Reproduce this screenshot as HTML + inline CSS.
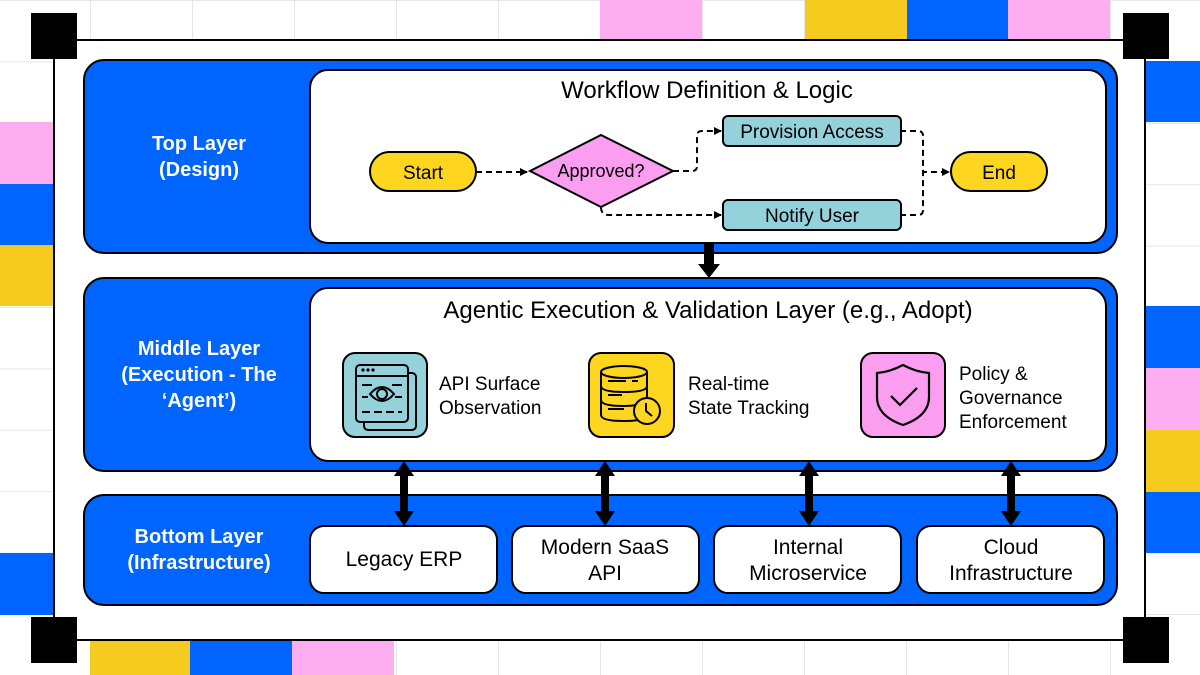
<!DOCTYPE html>
<html><head><meta charset="utf-8"><style>
html,body{margin:0;padding:0;width:1200px;height:675px;overflow:hidden;background:#fff}
svg{display:block}
text{font-family:"Liberation Sans",sans-serif}
</style></head><body>
<svg width="1200" height="675" viewBox="0 0 1200 675" xmlns="http://www.w3.org/2000/svg">
<defs>
<pattern id="g" x="-12" y="0" width="102" height="61.4" patternUnits="userSpaceOnUse">
<path d="M0 0H102M0 0V61.4" stroke="#e6e6e6" stroke-width="2" fill="none"/>
</pattern>
<marker id="a" markerWidth="8" markerHeight="8" refX="7" refY="4" orient="auto" markerUnits="userSpaceOnUse"><path d="M0 0L8 4L0 8z" fill="#000"/></marker>
</defs>
<rect width="1200" height="675" fill="url(#g)"/>
<rect x="0" y="122" width="54" height="62" fill="#fdaef0"/>
<rect x="0" y="184" width="54" height="61" fill="#0064ff"/>
<rect x="0" y="245" width="54" height="61" fill="#f6cb1f"/>
<rect x="0" y="553" width="54" height="62" fill="#0064ff"/>
<rect x="1145" y="61" width="55" height="61" fill="#0064ff"/>
<rect x="1145" y="306" width="55" height="62" fill="#0064ff"/>
<rect x="1145" y="368" width="55" height="62" fill="#fdaef0"/>
<rect x="1145" y="430" width="55" height="62" fill="#f6cb1f"/>
<rect x="1145" y="492" width="55" height="61" fill="#0064ff"/>
<rect x="600" y="0" width="102" height="40" fill="#fdaef0"/>
<rect x="805" y="0" width="102" height="40" fill="#f6cb1f"/>
<rect x="907" y="0" width="101" height="40" fill="#0064ff"/>
<rect x="1008" y="0" width="102" height="40" fill="#fdaef0"/>
<rect x="90" y="640" width="100" height="35" fill="#f6cb1f"/>
<rect x="190" y="640" width="102" height="35" fill="#0064ff"/>
<rect x="292" y="640" width="102" height="35" fill="#fdaef0"/>
<rect x="54" y="40" width="1091" height="600" fill="#fff" stroke="#000" stroke-width="2"/>
<rect x="31" y="13" width="46" height="46" fill="#000"/>
<rect x="1123" y="13" width="46" height="46" fill="#000"/>
<rect x="31" y="617" width="46" height="46" fill="#000"/>
<rect x="1123" y="617" width="46" height="46" fill="#000"/>

<rect x="84" y="60" width="1033" height="193" rx="20" fill="#0064ff" stroke="#000" stroke-width="2"/>
<rect x="310" y="70" width="796" height="173" rx="18" fill="#fff" stroke="#000" stroke-width="2"/>
<rect x="84" y="278" width="1033" height="193" rx="20" fill="#0064ff" stroke="#000" stroke-width="2"/>
<rect x="310" y="288" width="796" height="173" rx="18" fill="#fff" stroke="#000" stroke-width="2"/>
<rect x="84" y="495" width="1033" height="110" rx="20" fill="#0064ff" stroke="#000" stroke-width="2"/>

<g fill="#fff" font-weight="bold" font-size="20" text-anchor="middle">
<text x="199" y="150">Top Layer</text><text x="199" y="176">(Design)</text>
<text x="199" y="355">Middle Layer</text><text x="199" y="381">(Execution - The</text><text x="199" y="407">‘Agent’)</text>
<text x="199" y="543">Bottom Layer</text><text x="199" y="569">(Infrastructure)</text>
</g>

<g font-size="24" text-anchor="middle" fill="#000">
<text x="707" y="98">Workflow Definition &amp; Logic</text>
<text x="708" y="318">Agentic Execution &amp; Validation Layer (e.g., Adopt)</text>
</g>

<g stroke="#000" stroke-width="2" fill="none" stroke-dasharray="6 4">
<path d="M476 172H527" marker-end="url(#a)"/>
<path d="M673 171H692Q697 171 697 166V136Q697 131 702 131H721" marker-end="url(#a)"/>
<path d="M601 207Q601 215 609 215H721" marker-end="url(#a)"/>
<path d="M900 131H918Q923 131 923 136V172H949" marker-end="url(#a)"/>
<path d="M900 215H918Q923 215 923 210V172"/>
</g>
<rect x="370" y="152" width="106" height="39" rx="19.5" fill="#fed51f" stroke="#000" stroke-width="2"/>
<text x="423" y="179" font-size="19" text-anchor="middle">Start</text>
<path d="M530 171L601 135L673 171L601 207Z" fill="#fb9ef0" stroke="#000" stroke-width="2"/>
<text x="601" y="177" font-size="18" text-anchor="middle">Approved?</text>
<rect x="723" y="116" width="178" height="30" rx="5" fill="#94d1da" stroke="#000" stroke-width="2"/>
<text x="812" y="138" font-size="19" text-anchor="middle">Provision Access</text>
<rect x="723" y="200" width="178" height="30" rx="5" fill="#94d1da" stroke="#000" stroke-width="2"/>
<text x="812" y="222" font-size="19" text-anchor="middle">Notify User</text>
<rect x="951" y="152" width="96" height="39" rx="19.5" fill="#fed51f" stroke="#000" stroke-width="2"/>
<text x="999" y="179" font-size="19" text-anchor="middle">End</text>

<rect x="704" y="243" width="10" height="24" fill="#000"/>
<path d="M698 264H720L709 278Z" fill="#000"/>

<rect x="343" y="353" width="84" height="84" rx="12" fill="#94d1da" stroke="#000" stroke-width="2"/>
<g stroke="#000" stroke-width="2" fill="none">
<rect x="364" y="373" width="52" height="57" rx="4"/>
<rect x="356" y="365" width="52" height="57" rx="4" fill="#94d1da"/>
<path d="M356 376H408M362 397H368M395 397H402M362 412H370M374 412H382M386 412H394M398 412H402M362 385H372M392 385H402"/>
<path d="M370 394Q382 380 394 394Q382 408 370 394Z"/><circle cx="382" cy="394" r="5"/>
</g>
<g fill="#000"><circle cx="363" cy="370" r="1.6"/><circle cx="368" cy="370" r="1.6"/><circle cx="373" cy="370" r="1.6"/></g>
<text x="439" y="390" font-size="19">API Surface</text>
<text x="439" y="414" font-size="19">Observation</text>

<rect x="589" y="353" width="85" height="84" rx="12" fill="#fed51f" stroke="#000" stroke-width="2"/>
<g stroke="#000" stroke-width="2" fill="none">
<ellipse cx="624" cy="372" rx="23" ry="6"/>
<path d="M601 372V415Q601 421 624 421Q640 421 645 418M647 372V398M601 386Q601 392 624 392Q647 392 647 386M601 400Q601 406 624 406Q632 406 636 405"/>
<path d="M608 381H626M608 395H622M608 409H624M632 381H638"/>
<circle cx="647" cy="411" r="13" fill="#fed51f"/>
<path d="M646 403V411L652 416"/>
</g>
<text x="688" y="390" font-size="19">Real-time</text>
<text x="688" y="414" font-size="19">State Tracking</text>

<rect x="861" y="353" width="84" height="84" rx="12" fill="#fb9ef0" stroke="#000" stroke-width="2"/>
<g stroke="#000" stroke-width="2.2" fill="none">
<path d="M903 365Q890 372 877 373V397Q877 416 903 425Q929 416 929 397V373Q916 372 903 365Z"/>
<path d="M891 396L900 405L917 388"/>
</g>
<text x="959" y="380" font-size="19">Policy &amp;</text>
<text x="959" y="404" font-size="19">Governance</text>
<text x="959" y="428" font-size="19">Enforcement</text>

<g fill="#000">
<g transform="translate(404,0)"><rect x="-4" y="474" width="8" height="40"/><path d="M-10 476H10L0 461Z M-10 511H10L0 526Z"/></g>
<g transform="translate(605,0)"><rect x="-4" y="474" width="8" height="40"/><path d="M-10 476H10L0 461Z M-10 511H10L0 526Z"/></g>
<g transform="translate(809,0)"><rect x="-4" y="474" width="8" height="40"/><path d="M-10 476H10L0 461Z M-10 511H10L0 526Z"/></g>
<g transform="translate(1011,0)"><rect x="-4" y="474" width="8" height="40"/><path d="M-10 476H10L0 461Z M-10 511H10L0 526Z"/></g>
</g>

<g fill="#fff" stroke="#000" stroke-width="2">
<rect x="310" y="526" width="187" height="67" rx="14"/>
<rect x="512" y="526" width="187" height="67" rx="14"/>
<rect x="714" y="526" width="187" height="67" rx="14"/>
<rect x="917" y="526" width="187" height="67" rx="14"/>
</g>
<g font-size="21" text-anchor="middle">
<text x="404" y="566">Legacy ERP</text>
<text x="605" y="554">Modern SaaS</text><text x="605" y="580">API</text>
<text x="808" y="554">Internal</text><text x="808" y="580">Microservice</text>
<text x="1011" y="554">Cloud</text><text x="1011" y="580">Infrastructure</text>
</g>
</svg>
</body></html>
